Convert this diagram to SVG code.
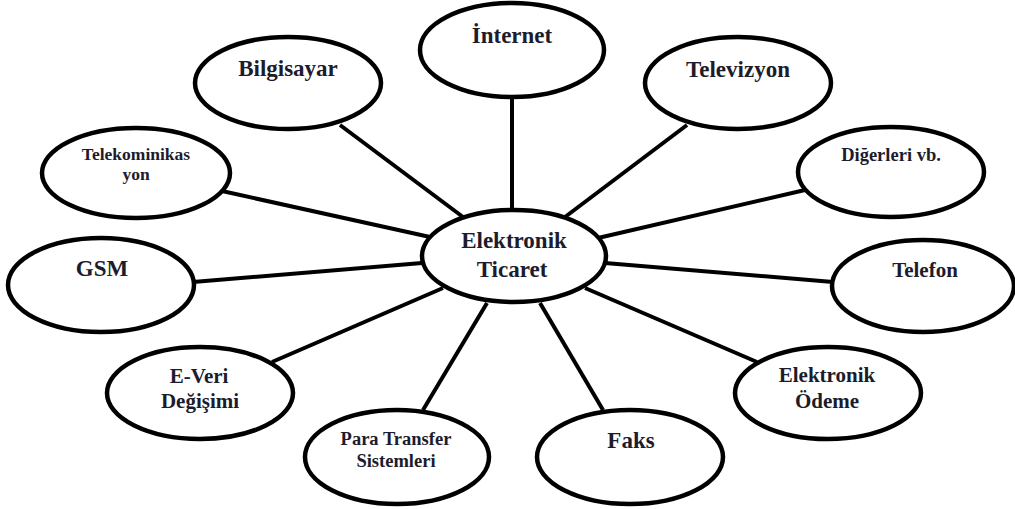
<svg xmlns="http://www.w3.org/2000/svg" width="1015" height="509" viewBox="0 0 1015 509">
<style>
.n ellipse{fill:#fff;stroke:#000;stroke-width:4.5}
.c line{stroke:#000;stroke-width:4}
text{font-family:"Liberation Serif","Times New Roman",serif;font-weight:bold;fill:#1c1c2c;text-anchor:middle}
.l{font-size:23px}
.m{font-size:21px}
.s{font-size:18.5px}
.t{font-size:17.5px}
</style>
<rect width="1015" height="509" fill="#fff"/>
<g id="connectors" class="c">
<line x1="512" y1="97" x2="512" y2="212"/>
<line x1="340" y1="125" x2="463" y2="217"/>
<line x1="222" y1="191" x2="430" y2="237"/>
<line x1="687" y1="125" x2="565" y2="217"/>
<line x1="805" y1="190" x2="598" y2="238"/>
<line x1="193" y1="282" x2="422" y2="263"/>
<line x1="605" y1="263" x2="833" y2="282"/>
<line x1="272" y1="362" x2="443" y2="288"/>
<line x1="423" y1="410" x2="487" y2="303"/>
<line x1="603" y1="410" x2="540" y2="303"/>
<line x1="757" y1="362" x2="585" y2="288"/>
</g>
<g id="internet" class="n"><ellipse cx="512" cy="50" rx="92" ry="47"/><text class="l" x="512" y="43">İnternet</text></g>
<g id="bilgisayar" class="n"><ellipse cx="288" cy="83" rx="93" ry="46"/><text class="l" x="288" y="76">Bilgisayar</text></g>
<g id="televizyon" class="n"><ellipse cx="738" cy="83" rx="93" ry="46"/><text class="l" x="738" y="77">Televizyon</text></g>
<g id="telekom" class="n"><ellipse cx="136" cy="173" rx="94" ry="45"/><text class="t" x="136" y="160">Telekominikas</text><text class="t" x="136" y="180">yon</text></g>
<g id="digerleri" class="n"><ellipse cx="891" cy="172" rx="93" ry="45"/><text class="s" x="891" y="161">Diğerleri vb.</text></g>
<g id="center" class="n"><ellipse cx="514" cy="256" rx="92" ry="46"/><text class="l" x="514" y="248">Elektronik</text><text class="l" x="512" y="277">Ticaret</text></g>
<g id="gsm" class="n"><ellipse cx="101" cy="285" rx="93" ry="47"/><text class="l" x="102" y="276">GSM</text></g>
<g id="telefon" class="n"><ellipse cx="923" cy="286" rx="91" ry="46"/><text class="m" x="925" y="277">Telefon</text></g>
<g id="everi" class="n"><ellipse cx="200" cy="393" rx="93" ry="46"/><text class="m" x="199" y="383">E-Veri</text><text class="m" x="200" y="408">Değişimi</text></g>
<g id="odeme" class="n"><ellipse cx="828" cy="393" rx="93" ry="46"/><text class="m" x="827" y="382">Elektronik</text><text class="m" x="827" y="408">Ödeme</text></g>
<g id="para" class="n"><ellipse cx="397" cy="457" rx="92" ry="47"/><text class="s" x="396" y="445">Para Transfer</text><text class="s" x="396" y="467">Sistemleri</text></g>
<g id="faks" class="n"><ellipse cx="630" cy="457" rx="93" ry="47"/><text class="l" x="631" y="448">Faks</text></g>
</svg>
